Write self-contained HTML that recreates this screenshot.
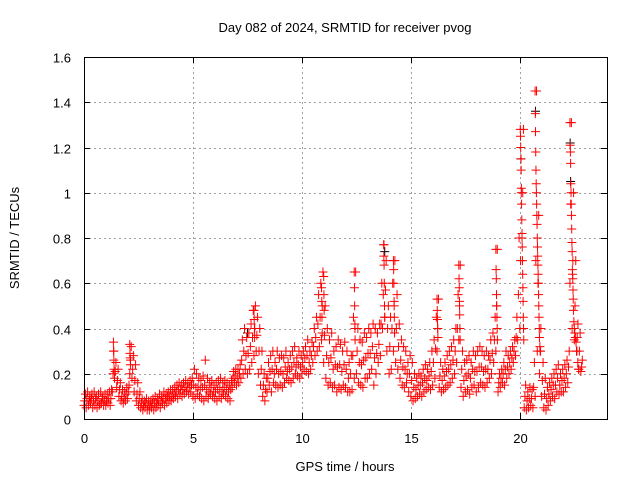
<!DOCTYPE html>
<html><head><meta charset="utf-8"><style>
html,body{margin:0;padding:0;background:#fff;}
svg{display:block;font-family:"Liberation Sans",sans-serif;}
</style></head><body>
<svg id="chart" width="640" height="480"></svg>
<script>
const hours = [];
const lowValues = [
.06,.05,.06,.07,.05,.06,.05,.06,.07,.06,
.06,.07,.06,.12,.18,.14,.10,.08,.07,.08,
.09,.20,.18,.12,.08,.06,.05,.04,.05,.04,
.04,.05,.04,.05,.06,.05,.07,.06,.07,.08,
.08,.09,.10,.09,.11,.10,.11,.12,.11,.12,
.10,.09,.11,.10,.09,.08,.10,.09,.11,.10,
.09,.08,.10,.09,.11,.10,.09,.08,.14,.16,
.15,.16,.18,.20,.22,.20,.22,.25,.28,.30,
.20,.15,.10,.08,.12,.15,.12,.16,.15,.14,
.15,.14,.16,.18,.17,.16,.18,.20,.19,.18,
.20,.22,.21,.20,.22,.25,.28,.30,.32,.35,
.25,.18,.15,.16,.14,.15,.12,.14,.13,.15,
.14,.12,.12,.13,.18,.20,.16,.15,.14,.18,
.18,.20,.22,.15,.20,.25,.28,.40,.45,.30,
.20,.22,.30,.25,.22,.18,.15,.14,.16,.12,
.10,.08,.09,.10,.11,.10,.12,.13,.14,.13,
.15,.18,.30,.14,.12,.13,.14,.15,.16,.18,
.20,.25,.35,.14,.10,.12,.13,.11,.14,.15,
.12,.14,.16,.15,.14,.16,.18,.20,.25,.30,
.12,.14,.16,.15,.18,.20,.22,.25,.28,.35,
.40,.80,.05,.04,.05,.06,.05,.10,.30,.20,
.10,.05,.04,.06,.08,.10,.09,.12,.11,.12,
.12,.14,.16,.60,.40,.35,.30,.22,.21];
const midValues = [
.08,.09,.08,.09,.08,.09,.08,.07,.09,.08,
.08,.09,.09,.20,.21,.17,.13,.10,.09,.11,
.12,.26,.22,.17,.11,.09,.07,.06,.07,.06,
.06,.07,.07,.07,.08,.08,.09,.09,.10,.10,
.10,.11,.12,.13,.13,.13,.14,.14,.14,.15,
.15,.14,.14,.13,.14,.15,.13,.12,.14,.12,
.12,.13,.14,.12,.14,.13,.12,.13,.18,.19,
.18,.20,.26,.30,.28,.29,.32,.36,.40,.37,
.30,.22,.15,.13,.18,.21,.22,.20,.22,.20,
.21,.20,.23,.21,.22,.23,.25,.23,.24,.23,
.25,.27,.28,.25,.28,.32,.36,.42,.45,.50,
.37,.28,.25,.27,.22,.24,.23,.24,.21,.24,
.22,.18,.20,.28,.40,.30,.25,.24,.26,.27,
.29,.29,.32,.27,.29,.33,.42,.55,.57,.40,
.32,.40,.50,.40,.32,.26,.23,.22,.20,.20,
.17,.14,.13,.15,.15,.16,.18,.17,.19,.21,
.25,.31,.40,.19,.17,.19,.21,.22,.24,.26,
.30,.40,.50,.22,.17,.19,.20,.18,.22,.21,
.21,.23,.23,.21,.22,.22,.26,.29,.35,.50,
.16,.18,.20,.22,.23,.25,.27,.30,.36,.55,
.70,1.0,.10,.08,.09,.09,.14,.70,.60,.30,
.17,.11,.09,.11,.13,.15,.15,.18,.15,.17,
.18,.20,.23,.95,.70,.50,.36,.30,.23];
const highValues = [
.11,.12,.10,.11,.12,.10,.11,.12,.10,.11,
.11,.12,.13,.30,.25,.22,.16,.13,.12,.14,
.15,.32,.28,.24,.16,.12,.09,.08,.09,.08,
.08,.09,.10,.09,.11,.10,.12,.11,.12,.13,
.13,.14,.15,.16,.15,.16,.17,.16,.17,.18,
.22,.20,.18,.17,.19,.26,.18,.16,.17,.15,
.16,.17,.18,.16,.17,.16,.15,.17,.21,.22,
.22,.24,.35,.40,.36,.38,.42,.48,.50,.45,
.40,.30,.20,.18,.25,.28,.30,.25,.30,.27,
.28,.27,.30,.25,.28,.30,.32,.27,.30,.28,
.30,.32,.35,.30,.34,.40,.45,.55,.60,.65,
.50,.40,.35,.38,.30,.32,.35,.33,.30,.34,
.30,.25,.28,.45,.65,.40,.35,.34,.38,.36,
.40,.38,.42,.40,.38,.42,.60,.77,.70,.50,
.45,.60,.70,.55,.42,.35,.32,.30,.25,.28,
.25,.20,.18,.20,.19,.22,.24,.22,.25,.30,
.35,.45,.53,.25,.22,.25,.28,.30,.32,.35,
.40,.55,.68,.30,.25,.26,.28,.25,.30,.28,
.30,.32,.30,.28,.30,.28,.35,.38,.45,.75,
.20,.22,.25,.30,.28,.30,.32,.35,.45,.80,
1.0,1.28,.15,.12,.14,.13,.25,1.45,.90,.40,
.25,.18,.14,.16,.18,.20,.22,.24,.20,.22,
.24,.26,.30,1.31,1.0,.70,.42,.38,.26];
for (let i = 0; i < lowValues.length; i++) hours.push(i / 10);

const spikeHours = [1.35,1.36,1.37,1.38, 2.1,2.11,2.12,2.13, 7.8,7.81,7.82,7.83,
10.9,10.91,10.92,10.93, 11.0,11.01,11.02, 12.4,12.41,12.42,12.43,12.44,
13.75,13.76,13.77,13.78,13.79,13.8, 14.2,14.21,14.22,14.23,14.24,14.25,
16.2,16.21,16.22,16.23,16.24, 17.2,17.21,17.22,17.23,17.24,17.25,17.26,
18.9,18.91,18.92,18.93,18.94,18.95,18.96,18.97,
20.02,20.03,20.04,20.05,20.06,20.07,20.08,20.09,20.1,20.11,20.12,20.13,20.14,20.15,20.16,20.17,20.18,
20.7,20.71,20.72,20.73,20.74,20.75,20.76,20.77,20.78,20.79,20.8,20.81,20.82,20.83,20.84,20.85,20.86,20.87,20.88,20.89,20.9,20.92,20.95,
22.3,22.31,22.32,22.33,22.34,22.35,22.36,22.37,22.38,22.39,22.4,22.41,22.42,22.43,22.44,22.45,22.46,22.48,22.5,22.52,22.55,22.58,22.62,22.66,22.7];
const spikeValues = [.34,.30,.26,.22, .33,.29,.27,.24, .48,.44,.40,.36,
.58,.52,.45,.38, .63,.55,.48, .65,.58,.50,.42,.35,
.77,.72,.68,.60,.50,.45, .70,.66,.60,.52,.45,.38,
.53,.48,.44,.40,.36, .68,.62,.58,.52,.46,.40,.35,
.75,.66,.62,.55,.50,.45,.40,.35,
1.28,1.25,1.2,1.15,1.1,1.02,.95,.88,.82,.76,.70,.64,.58,.52,.45,.40,.35,
1.45,1.35,1.27,1.18,1.1,1.04,1.0,.95,.9,.86,.8,.76,.72,.68,.64,.6,.55,.5,.45,.4,.36,.32,.3,
1.31,1.21,1.18,1.13,1.04,1.0,.95,.90,.84,.78,.74,.66,.64,.62,.57,.53,.48,.43,.40,.38,.36,.34,.30,.25,.22];

const blackHours = [20.05, 20.72, 22.31, 22.33, 7.5, 13.8];
const blackValues = [1.15, 1.36, 1.22, 1.05, .38, .74];

const xTicks = [0,5,10,15,20];
const yTicks = [0,0.2,0.4,0.6,0.8,1,1.2,1.4,1.6];
const yTickLabels = ["0","0.2","0.4","0.6","0.8","1","1.2","1.4","1.6"];

const L=84, R=607, T=57, B=419, XMAX=24, YMAX=1.6;
const xs = v => L + (v / XMAX) * (R - L);
const ys = v => B - (v / YMAX) * (B - T);
const NS = "http://www.w3.org/2000/svg";
const svg = document.getElementById('chart');
function mk(tag, attrs, parent) {
  const e = document.createElementNS(NS, tag);
  for (const k in attrs) e.setAttribute(k, attrs[k]);
  (parent || svg).appendChild(e);
  return e;
}
const grid = mk('g', {stroke:'#a0a0a0','stroke-width':1,'stroke-dasharray':'2,3'});


yTicks.forEach(v => { if (v>0 && v<YMAX) mk('line',{x1:L,x2:R,y1:Math.round(ys(v))+0.5,y2:Math.round(ys(v))+0.5},grid); });
xTicks.forEach(v => { if (v>0) mk('line',{y1:T,y2:B,x1:Math.round(xs(v))+0.5,x2:Math.round(xs(v))+0.5},grid); });

function plus(g, x, y) {
  const s = 4.5;
  mk('path', {d:`M${x-s} ${y}H${x+s}M${x} ${y-s}V${y+s}`}, g);
}
const blk = mk('g', {stroke:'#000','stroke-width':1,fill:'none'});


blackHours.forEach((h,i) => plus(blk, xs(h), ys(blackValues[i])));
const red = mk('g', {stroke:'#ff0000','stroke-width':1,fill:'none'});


hours.forEach((h,i) => {
  plus(red, xs(h), ys(lowValues[i]));
  plus(red, xs(h+0.033), ys(midValues[i]));
  plus(red, xs(h+0.066), ys(highValues[i]));
});
spikeHours.forEach((h,i) => plus(red, xs(h), ys(spikeValues[i])));

const frame = mk('rect',{x:L+0.5,y:T+0.5,width:R-L,height:B-T,fill:'none',stroke:'#000','stroke-width':1});


const ticks = mk('g',{stroke:'#000','stroke-width':1});


yTicks.forEach((v,i) => {
  const y = Math.round(ys(v))+0.5;
  mk('line',{x1:L,x2:L+6,y1:y,y2:y},ticks);
  mk('line',{x1:R-6,x2:R,y1:y,y2:y},ticks);
  const t = mk('text',{x:71,y:y+5,'text-anchor':'end','font-size':13,fill:'#000',stroke:'none'});
  t.textContent = yTickLabels[i];
  
  
});
xTicks.forEach(v => {
  const x = Math.round(xs(v))+0.5;
  mk('line',{x1:x,x2:x,y1:B,y2:B-6},ticks);
  mk('line',{x1:x,x2:x,y1:T,y2:T+6},ticks);
  const t = mk('text',{x:x,y:443,'text-anchor':'middle','font-size':13,fill:'#000',stroke:'none'});
  t.textContent = String(v);
  
  
});
const title = mk('text',{x:345,y:32,'text-anchor':'middle','font-size':13});
title.textContent = 'Day 082 of 2024, SRMTID for receiver pvog';


const xl = mk('text',{x:345,y:471,'text-anchor':'middle','font-size':13});
xl.textContent = 'GPS time / hours';


const yl = mk('text',{x:0,y:0,'text-anchor':'middle','font-size':13,transform:'translate(19,238) rotate(-90)'});
yl.textContent = 'SRMTID / TECUs';


</script>
</body></html>
